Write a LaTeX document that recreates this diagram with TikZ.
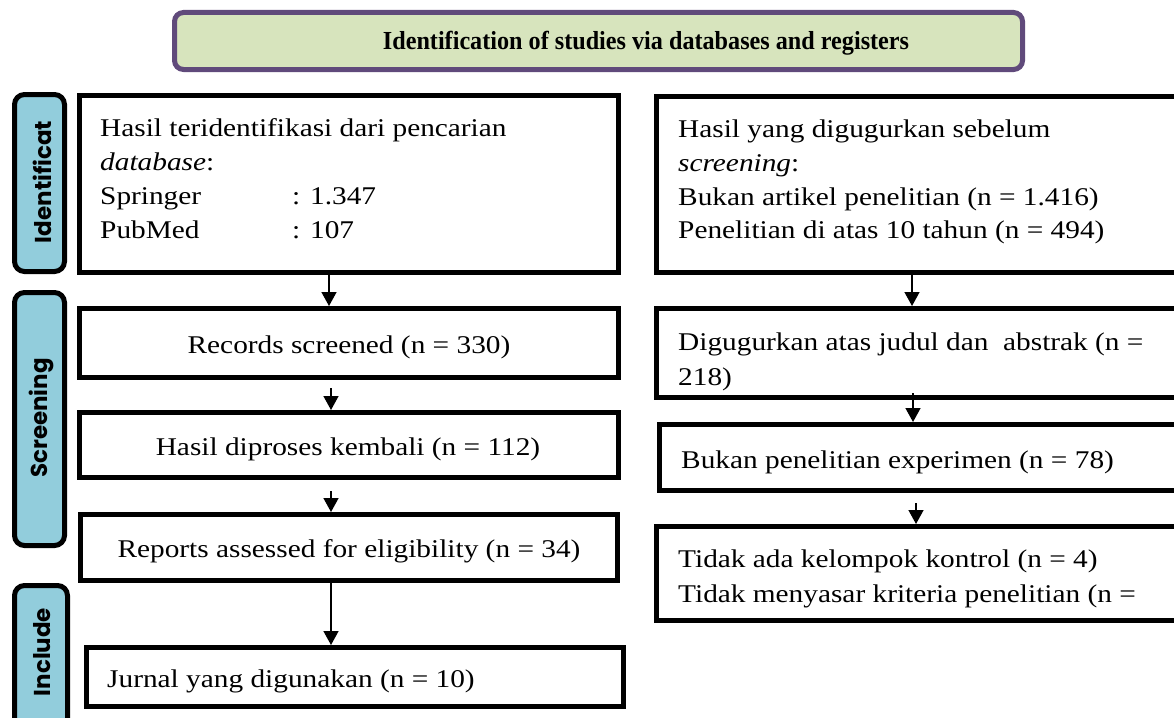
\documentclass[tikz,border=0pt]{standalone}
\usepackage{fontspec}
\setmainfont{Liberation Serif}[FakeStretch=1.15]
\newfontfamily\titlefont{Liberation Serif}[FakeStretch=0.93]
\newfontfamily\tabfont{Poppins}
\usetikzlibrary{arrows.meta}
\definecolor{tabblue}{HTML}{92CDDC}
\definecolor{titlegreen}{HTML}{D7E4BD}
\definecolor{titlepurple}{HTML}{604A7B}
\tikzset{
  boxst/.style={draw=black, line width=5pt, fill=white, rectangle, inner sep=0pt},
  tabst/.style={draw=black, line width=5pt, fill=tabblue, rectangle, rounded corners=10pt, inner sep=0pt},
  titlest/.style={draw=titlepurple, line width=5pt, fill=titlegreen, rectangle, rounded corners=9pt, inner sep=0pt},
  txt/.style={inner sep=0pt, font=\fontsize{25.5}{34}\selectfont},
  tablab/.style={inner sep=0pt, rotate=90, font=\tabfont\bfseries\fontsize{23}{23}\selectfont},
  arr/.style={line width=1.5pt, -{Triangle[width=15pt,length=14pt]}}
}
\begin{document}
\begin{tikzpicture}[x=1pt,y=-1pt]
\useasboundingbox (0,0) rectangle (1174,717);
\clip (0,0) rectangle (1174,717);
% title
\node[titlest, minimum width=848pt, minimum height=57pt] (title) at (598.5,41) {};
\node[inner sep=0pt, anchor=base, font=\titlefont\bfseries\fontsize{26}{26}\selectfont] (titletxt) at (646,50) {Identification of studies via databases and registers};
% tabs
\node[tabst, minimum width=50pt, minimum height=177pt] (tab1) at (39.5,183) {};
\node[tabst, minimum width=50pt, minimum height=253pt] (tab2) at (39.5,419) {};
\node[tabst, minimum width=53pt, minimum height=172pt] (tab3) at (41,671.5) {};
\node[tablab] (lab1) at (42,182) {Identificat};
\node[tablab] (lab2) at (41,418) {Screening};
\node[tablab] (lab3) at (42,652) {Include};
% left boxes
\node[boxst, minimum width=539pt, minimum height=177pt] (id) at (349,184) {};
\node[boxst, minimum width=539pt, minimum height=69pt] (rec) at (349,343) {};
\node[boxst, minimum width=539pt, minimum height=65pt] (hd) at (349,445) {};
\node[boxst, minimum width=537pt, minimum height=66pt] (rep) at (349,547.5) {};
\node[boxst, minimum width=537pt, minimum height=59pt] (jur) at (355,677) {};
% right boxes
\node[boxst, minimum width=541pt, minimum height=176pt] (rt1) at (927,184.5) {};
\node[boxst, minimum width=541pt, minimum height=89pt] (rt2) at (927,353) {};
\node[boxst, minimum width=538pt, minimum height=66pt] (rt3) at (928.5,457.5) {};
\node[boxst, minimum width=541pt, minimum height=94pt] (rt4) at (927,573.5) {};
% texts left
\node[txt, anchor=base west] (id1) at (100,136) {Hasil teridentifikasi dari pencarian};
\node[txt, anchor=base west] (id2) at (100,170) {\textit{database}:};
\node[txt, anchor=base west] (id3) at (100,204) {\makebox[192pt][l]{Springer}: 1.347};
\node[txt, anchor=base west] (id4) at (100,238) {\makebox[192pt][l]{PubMed}: 107};
\node[txt, anchor=base] (rectxt) at (349,353) {Records screened (n = 330)};
\node[txt, anchor=base] (hdtxt) at (348,455) {Hasil diproses kembali (n = 112)};
\node[txt, anchor=base] (reptxt) at (349,557) {Reports assessed for eligibility (n = 34)};
\node[txt, anchor=base west] (jurtxt) at (107,687) {Jurnal yang digunakan (n = 10)};
% texts right
\node[txt, anchor=base west] (r11) at (678,137) {Hasil yang digugurkan sebelum};
\node[txt, anchor=base west] (r12) at (678,171) {\textit{screening}:};
\node[txt, anchor=base west] (r13) at (678,205) {Bukan artikel penelitian (n = 1.416)};
\node[txt, anchor=base west] (r14) at (678,238) {Penelitian di atas 10 tahun (n = 494)};
\node[txt, anchor=base west] (r21) at (678,350) {Digugurkan atas judul dan\ \ abstrak (n =};
\node[txt, anchor=base west] (r22) at (678,385) {218)};
\node[txt, anchor=base west] (r31) at (681,468) {Bukan penelitian experimen (n = 78)};
\node[txt, anchor=base west] (r41) at (678,567) {Tidak ada kelompok kontrol (n = 4)};
\node[txt, anchor=base west] (r42) at (678,602) {Tidak menyasar kriteria penelitian (n =};
% arrows
\coordinate (cl1) at (329,0);
\coordinate (cl2) at (331,0);
\coordinate (cr1) at (912,0);
\coordinate (cr2) at (913,0);
\coordinate (cr3) at (916,0);
\draw[arr] (id.south -| cl1) -- (rec.north -| cl1);
\draw[arr, shorten <=8pt] (rec.south -| cl2) -- (hd.north -| cl2);
\draw[arr, shorten <=11pt] (hd.south -| cl2) -- (rep.north -| cl2);
\draw[arr] (rep.south -| cl2) -- (jur.north -| cl2);
\draw[arr] (rt1.south -| cr1) -- (rt2.north -| cr1);
\draw[arr, shorten <=-7pt] (rt2.south -| cr2) -- (rt3.north -| cr2);
\draw[arr, shorten <=10pt] (rt3.south -| cr3) -- (rt4.north -| cr3);
\end{tikzpicture}
\end{document}
